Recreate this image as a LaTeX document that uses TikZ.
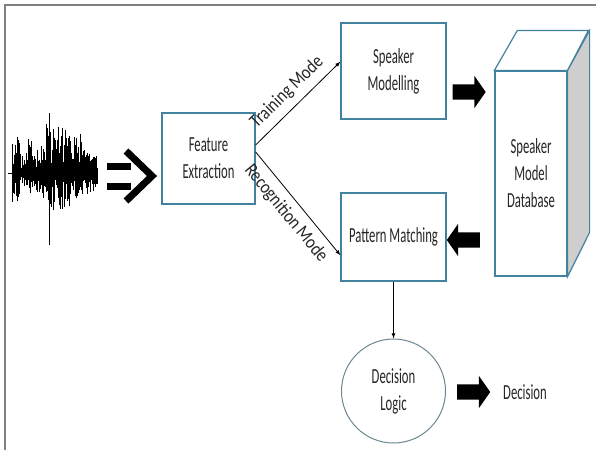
\documentclass[tikz,border=0pt]{standalone}
\usepackage{fontspec}
\setmainfont{Carlito}[FakeStretch=0.59]
\newfontfamily\labelfont{Carlito}[FakeStretch=0.85]
\usetikzlibrary{arrows,shapes.arrows,positioning}
\definecolor{boxline}{RGB}{66,130,158}
\definecolor{ringline}{RGB}{110,135,145}
\definecolor{sideface}{RGB}{206,206,206}
\definecolor{frameline}{RGB}{128,128,128}

\begin{document}
\begin{tikzpicture}
  [x=1pt,y=-1pt,every node/.style={font=\fontsize{21.5}{27}\selectfont,align=center,text=black!85},
   block/.style={draw=boxline,line width=1.2pt,fill=white,inner sep=0pt},
   fatarrow/.style={single arrow,fill=black,inner xsep=0pt,inner ysep=7.5pt,minimum height=33pt,
                    single arrow head extend=8.5pt,single arrow tip angle=110},
   modearrow/.style={line width=0.8pt,-latex},
   modelabel/.style={font=\labelfont\fontsize{19}{22}\selectfont,sloped,midway,inner sep=1pt}]
  \fill[white] (0,0) rectangle (596,450);
  \useasboundingbox (0,0) rectangle (596,450);
  \draw[frameline,line width=2pt] (5,450) -- (5,5) -- (596,5);

  % speech signal
  \pgfmathsetseed{11}
  \draw[line width=0.6pt] (8,173) -- (98,173);
  \foreach \xa/\xb/\up/\dn in {12/16/40/30, 16/20/42/30, 20/24/20/16, 24/28/28/20, 28/33/38/24,
      33/37/20/18, 37/42/30/22, 42/46/36/30, 46/53/50/38, 53/58/36/30, 58/65/54/42,
      65/70/44/34, 70/76/36/28, 76/82/40/26, 82/88/28/22, 88/94/26/22, 94/98/18/16}
  {
    \pgfmathsetmacro\xs{\xa+0.7}
    \foreach \x in {\xa,\xs,...,\xb}
    {
      \pgfmathsetmacro\u{\up*(0.2+0.8*rnd)}
      \pgfmathsetmacro\d{\dn*(0.2+0.8*rnd)}
      \draw[line width=1pt] (\x,173-\u) -- (\x,173+\d);
    }
  }
  \draw[line width=0.8pt] (49,113) -- (49,245);

  % input arrow
  \draw[line width=7pt] (107,166) -- (131,166) (107,186) -- (131,186);
  \draw[line width=7pt,miter limit=4] (126,151) -- (152,176) -- (126,201);

  \node[block,minimum width=93pt,minimum height=91pt] (fe) at (208.5,158.5) {Feature\\Extraction};
  \node[block,minimum width=105pt,minimum height=96pt] (sm) at (393.5,71) {Speaker\\Modelling};
  \node[block,minimum width=105pt,minimum height=88pt] (pm) at (393.5,237) {Pattern Matching};
  \node[block,minimum width=72pt,minimum height=205pt] (db) at (531,173.5) {Speaker\\Model\\Database};
  \node[draw=ringline,line width=1pt,circle,minimum size=104pt,inner sep=0pt] (dl) at (393.5,391) {Decision\\Logic};
  \node (dec) at (525,392) {Decision};

  \draw[boxline,line width=1.2pt,fill=white] (db.north west) -- ++(23,-40) -- ++(71,0) -- (db.north east) -- cycle;
  \draw[boxline,line width=1.2pt,fill=sideface] (db.north east) -- ++(22,-40) -- ++(0,202) -- (db.south east) -- cycle;

  \node[fatarrow] (a1) at (466.5,92) {};
  \node[fatarrow,shape border rotate=180] (a2) at (466,240) {};
  \node[fatarrow] (a3) at (471,392) {};

  \draw[modearrow] (fe.16) -- node[modelabel,above=6pt] (trn) {Training Mode} (sm.170);
  \draw[modearrow] (fe.8) -- node[modelabel,below=6pt] (rec) {Recognition Mode} (pm.199);
  \draw[modearrow] (pm) -- (dl);
\end{tikzpicture}
\end{document}
